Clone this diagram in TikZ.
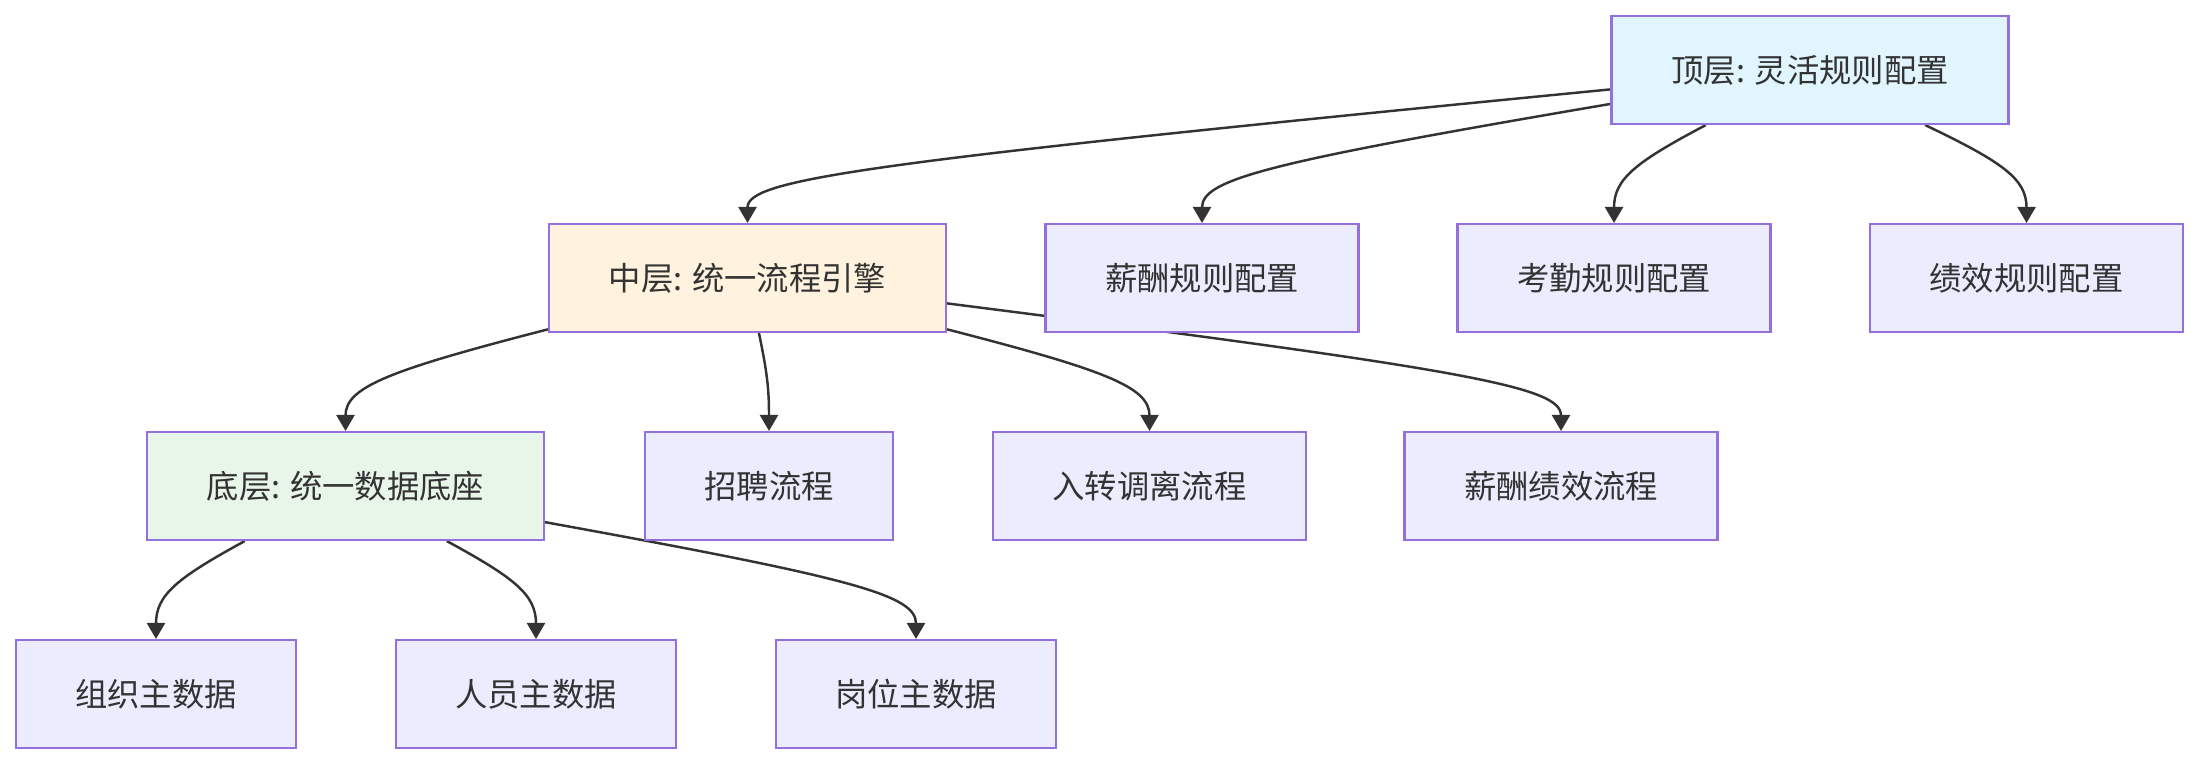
\documentclass[tikz,border=0pt]{standalone}
\usepackage{fontspec}
\newfontfamily\cjk{Noto Sans CJK SC}
\usepackage{xcolor}
\usepackage{tikz}
\usetikzlibrary{arrows.meta,calc,backgrounds}
\definecolor{cInk}{HTML}{333333}
\definecolor{cEdge}{HTML}{333333}
\definecolor{cStroke}{HTML}{9370DB}
\definecolor{cNode}{HTML}{ECECFF}
\definecolor{cTop}{HTML}{E1F5FE}
\definecolor{cMid}{HTML}{FFF3E0}
\definecolor{cBase}{HTML}{E8F5E9}
\tikzset{
  box/.style={draw=cStroke,fill=#1,line width=0.6pt,minimum height=1.08cm,inner sep=0pt,font=\cjk\fontsize{9.2}{11}\selectfont,text=cInk},
  box/.default=cNode,
  tier/.style={box=#1,minimum width=3.97cm},
  leaf/.style={box,minimum width=#1},
  link/.style={-{Triangle[length=0.16cm,width=0.18cm]},line width=0.7pt,draw=cEdge},
}
\newcommand{\flow}[3]{%
  \coordinate (bend) at (#2.north |- 0,#3);
  \draw[link] (#1) .. controls ($(#1)!0.89!(bend)$) and ($(#2.north)!0.89!(bend)$) .. (#2.north);
}

\begin{document}
\begin{tikzpicture}[x=1cm,y=1cm]
        \useasboundingbox (0,0) rectangle (21.98,-7.64);
        \node[tier=cTop] (top) at (18.10,-0.70) {顶层: 灵活规则配置};
        \node[tier=cMid] (mid) at (7.475,-2.78) {中层: 统一流程引擎};
        \node[leaf=3.13cm] (salcfg) at (12.02,-2.78) {薪酬规则配置};
        \node[leaf=3.13cm] (attcfg) at (16.14,-2.78) {考勤规则配置};
        \node[leaf=3.13cm] (perfcfg) at (20.265,-2.78) {绩效规则配置};
        \node[tier=cBase] (base) at (3.455,-4.86) {底层: 统一数据底座};
        \node[leaf=2.48cm] (hire) at (7.69,-4.86) {招聘流程};
        \node[leaf=3.13cm] (move) at (11.495,-4.86) {入转调离流程};
        \node[leaf=3.13cm] (payflow) at (15.61,-4.86) {薪酬绩效流程};
        \node[leaf=2.80cm] (org) at (1.56,-6.94) {组织主数据};
        \node[leaf=2.80cm] (staff) at (5.36,-6.94) {人员主数据};
        \node[leaf=2.80cm] (post) at (9.16,-6.94) {岗位主数据};
        \begin{scope}[on background layer]
          \flow{top}{mid}{-1.735}
          \flow{top}{salcfg}{-1.735}
          \flow{top}{attcfg}{-1.735}
          \flow{top}{perfcfg}{-1.735}
          \flow{mid}{base}{-3.815}
          \flow{mid}{hire}{-3.815}
          \flow{mid}{move}{-3.815}
          \flow{mid}{payflow}{-3.815}
          \flow{base}{org}{-5.895}
          \flow{base}{staff}{-5.895}
          \flow{base}{post}{-5.895}
        \end{scope}
      \end{tikzpicture}
\end{document}
